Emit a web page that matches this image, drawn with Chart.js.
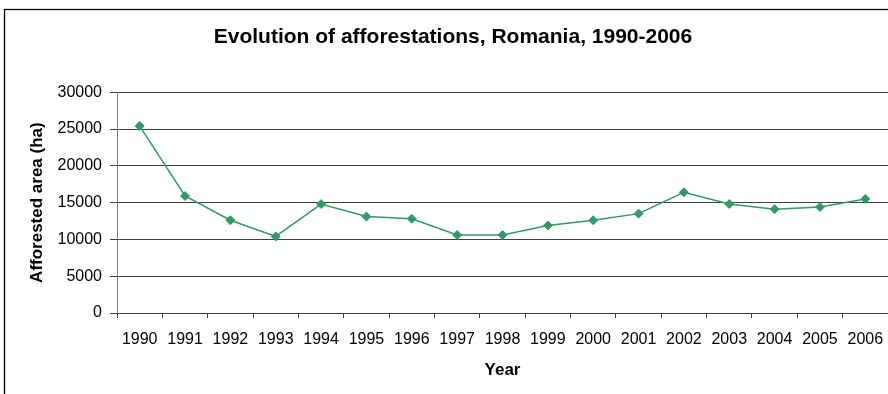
<!DOCTYPE html>
<html>
<head>
<meta charset="utf-8">
<title>Evolution of afforestations, Romania, 1990-2006</title>
<script src="https://cdn.jsdelivr.net/npm/chart.js@4/dist/chart.umd.min.js"></script>
<style>
    html, body {
        margin: 0;
        padding: 0;
        overflow: hidden;
        background: #ffffff;
    }
    #chartBox {
        width: 906px;
        height: 394px;
    }
</style>
</head>
<body>
<div id="chartBox">
    <canvas id="afforestChart" width="906" height="394"></canvas>
</div>
<script>
// afforested area per year, in hectares
var years = ["1990", "1991", "1992", "1993", "1994", "1995", "1996", "1997", "1998",
    "1999", "2000", "2001", "2002", "2003", "2004", "2005", "2006"];
var afforestedArea = [25400, 15900, 12600, 10400, 14800, 13100, 12800, 10600, 10600,
    11900, 12600, 13500, 16400, 14800, 14100, 14400, 15500];

var chartTitle = "Evolution of afforestations, Romania, 1990-2006";
var xTitle = "Year";
var yTitle = "Afforested area (ha)";
var yMin = 0;
var yMax = 30000;
var yStep = 5000;

var fontName = "'Liberation Sans', Arial, sans-serif";
var lineGreen = "#339966";

// white background and the black frame round the whole chart
var frame = {
    id: "frame",
    beforeDraw: function (chart) {
        var ctx = chart.ctx;
        ctx.save();
        ctx.fillStyle = "#ffffff";
        ctx.fillRect(0, 0, chart.width, chart.height);
        ctx.strokeStyle = "#000000";
        ctx.lineWidth = 1.3;
        ctx.strokeRect(4.5, 9.5, 897, 420);
        ctx.restore();
    }
};

var ctx = document.getElementById("afforestChart").getContext("2d");

var afforestChart = new Chart(ctx, {
    type: "line",
    data: {
        labels: years,
        datasets: [{
            label: yTitle,
            data: afforestedArea,
            borderColor: lineGreen,
            backgroundColor: lineGreen,
            borderWidth: 1.5,
            pointStyle: "rectRot",
            pointRadius: 4.5,
            pointBorderWidth: 1,
            pointBackgroundColor: lineGreen,
            pointBorderColor: lineGreen,
            tension: 0,
            fill: false
        }]
    },
    options: {
        responsive: false,
        animation: false,
        layout: {
            padding: { left: 18, right: 18, top: 0, bottom: 0 }
        },
        plugins: {
            legend: { display: false },
            tooltip: { enabled: false },
            title: {
                display: true,
                text: chartTitle,
                color: "#000000",
                font: { family: fontName, size: 21, weight: "bold" },
                padding: { top: 25, bottom: 42 }
            }
        },
        scales: {
            x: {
                offset: true,
                grid: {
                    offset: true,
                    drawOnChartArea: false,
                    drawTicks: true,
                    tickLength: 5,
                    color: "#404040"
                },
                border: { display: true, color: "#404040", width: 1 },
                ticks: {
                    color: "#000000",
                    font: { family: fontName, size: 16 },
                    maxRotation: 0,
                    autoSkip: false,
                    padding: 12
                },
                title: {
                    display: true,
                    text: xTitle,
                    color: "#000000",
                    font: { family: fontName, size: 17, weight: "bold" },
                    padding: { top: 0, bottom: 13 }
                },
                afterFit: function (scale) {
                    scale.height = 81;
                }
            },
            y: {
                min: yMin,
                max: yMax,
                grid: {
                    color: "#404040",
                    lineWidth: 1,
                    tickLength: 7
                },
                border: { display: true, color: "#808080", width: 1 },
                ticks: {
                    stepSize: yStep,
                    color: "#000000",
                    font: { family: fontName, size: 16 },
                    padding: 8,
                    // plain numbers, no thousands separator
                    callback: function (value) {
                        return String(value);
                    }
                },
                title: {
                    display: true,
                    text: yTitle,
                    color: "#000000",
                    font: { family: fontName, size: 17, weight: "bold" },
                    padding: { top: 9, bottom: 0 }
                },
                afterFit: function (scale) {
                    scale.width = 99;
                }
            }
        }
    },
    plugins: [frame]
});
</script>
</body>
</html>
